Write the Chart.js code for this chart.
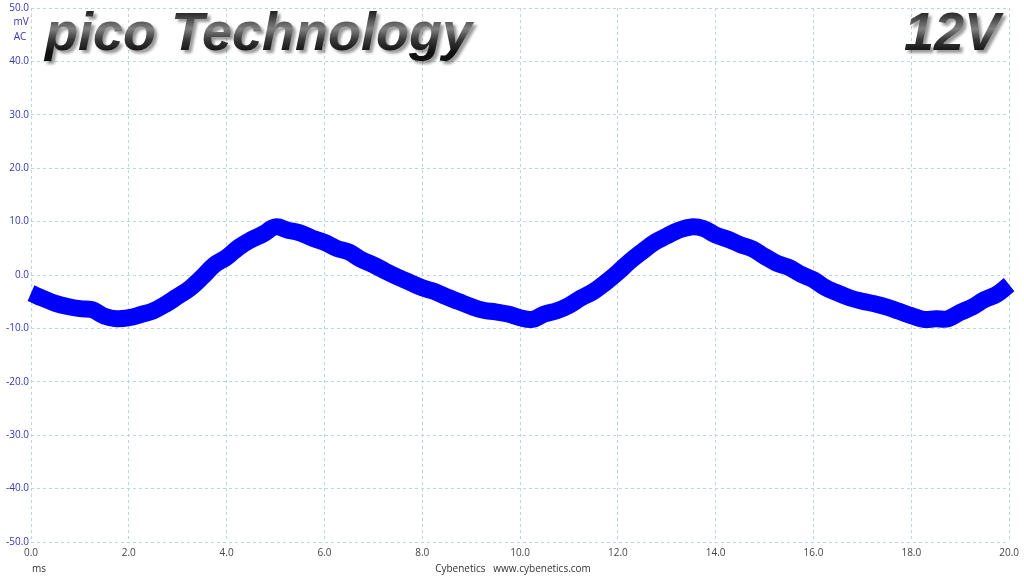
<!DOCTYPE html>
<html>
<head>
<meta charset="utf-8">
<script src="https://cdn.jsdelivr.net/npm/chart.js@4/dist/chart.umd.min.js"></script>
<style>
  html, body { margin: 0; padding: 0; background: #ffffff; }
  #wrap { width: 1024px; height: 576px; position: relative; }
</style>
</head>
<body>
<div id="wrap"><canvas id="myChart" width="1024" height="576"></canvas></div>
<script>
var times = [0, 0.25, 0.5, 0.75, 1, 1.25, 1.5, 1.75, 2, 2.25, 2.5, 2.75, 3, 3.25, 3.5, 3.75,
  4, 4.25, 4.5, 4.75, 5, 5.25, 5.5, 5.75, 6, 6.25, 6.5, 6.75, 7, 7.25, 7.5, 7.75,
  8, 8.25, 8.5, 8.75, 9, 9.25, 9.5, 9.75, 10, 10.25, 10.5, 10.75, 11, 11.25, 11.5, 11.75,
  12, 12.25, 12.5, 12.75, 13, 13.25, 13.5, 13.75, 14, 14.25, 14.5, 14.75, 15, 15.25, 15.5, 15.75,
  16, 16.25, 16.5, 16.75, 17, 17.25, 17.5, 17.75, 18, 18.25, 18.5, 18.75, 19, 19.25, 19.5, 19.75, 20];
var ripple = [-3.4, -4.4, -5.3, -5.9, -6.3, -6.5, -7.7, -8.2, -8.0, -7.4, -6.7, -5.5, -4.0, -2.5, -0.4, 1.9,
  3.3, 5.2, 6.6, 7.7, 9.0, 8.4, 7.9, 6.9, 6.1, 5.0, 4.3, 2.9, 1.9, 0.7, -0.4, -1.4,
  -2.4, -3.1, -4.1, -5.0, -5.9, -6.6, -6.9, -7.3, -8.0, -8.3, -7.3, -6.7, -5.7, -4.3, -3.1, -1.4,
  0.5, 2.6, 4.4, 6.1, 7.3, 8.4, 9.0, 8.7, 7.5, 6.7, 5.7, 4.9, 3.5, 2.2, 1.4, 0.1,
  -0.9, -2.4, -3.4, -4.3, -4.9, -5.4, -6.0, -6.8, -7.6, -8.3, -8.2, -8.2, -7.0, -6.0, -4.6, -3.6, -1.8];
var xTicks = [0, 2, 4, 6, 8, 10, 12, 14, 16, 18, 20];
var yTicks = [50, 40, 30, 20, 10, 0, -10, -20, -30, -40, -50];

var title = "pico Technology";
var rail = "12V";
var yUnit = ["mV", "AC"];
var xUnit = "ms";
var footer = "Cybenetics   www.cybenetics.com";

var points = [];
for (var i = 0; i < times.length; i++) {
  points.push({ x: times[i], y: ripple[i] });
}

// texts that sit on top of the plot
var overlay = {
  id: 'overlay',
  afterDraw: function(chart) {
    var ctx = chart.ctx;
    ctx.save();
    ctx.font = '10px "Open Sans"';
    ctx.fillStyle = '#3434b0';
    ctx.textAlign = 'center';
    ctx.textBaseline = 'middle';
    ctx.fillText(yUnit[0], 21, 22);
    ctx.fillText(yUnit[1], 20, 37);

    ctx.fillStyle = '#333333';
    ctx.textAlign = 'left';
    ctx.fillText(xUnit, 32, 569);
    ctx.textAlign = 'center';
    ctx.fillText(footer, 513, 569);

    // shaded italic headline text
    ctx.font = 'italic bold 54px "Liberation Sans"';
    ctx.textBaseline = 'alphabetic';
    var g = ctx.createLinearGradient(0, 10, 0, 52);
    g.addColorStop(0, '#1a1a1a');
    g.addColorStop(0.45, '#808080');
    g.addColorStop(0.7, '#3a3a3a');
    g.addColorStop(1, '#111111');
    ctx.shadowColor = 'rgba(0,0,0,0.4)';
    ctx.shadowOffsetX = 3;
    ctx.shadowOffsetY = 3;
    ctx.shadowBlur = 3;
    ctx.fillStyle = g;
    ctx.textAlign = 'left';
    ctx.fillText(title, 45, 50);
    ctx.textAlign = 'right';
    ctx.fillText(rail, 1000, 50);
    ctx.restore();
  }
};

const ctx = document.getElementById('myChart');
const myChart = new Chart(ctx, {
  type: 'line',
  data: {
    datasets: [{
      data: points,
      borderColor: '#0000ff',
      borderWidth: 17,
      pointRadius: 0,
      tension: 0.4,
      fill: false,
      borderCapStyle: 'butt',
      borderJoinStyle: 'round'
    }]
  },
  options: {
    responsive: false,
    animation: false,
    clip: false,
    layout: { padding: { top: 7, right: 13, left: 0, bottom: 0 } },
    plugins: {
      legend: { display: false },
      tooltip: { enabled: false }
    },
    scales: {
      x: {
        type: 'linear',
        min: 0,
        max: 20,
        afterBuildTicks: function(scale) {
          scale.ticks = xTicks.map(function(v) { return { value: v }; });
        },
        afterFit: function(scale) { scale.height = 34; },
        grid: { color: '#bcd6dc', drawTicks: false },
        border: { display: false, dash: [3, 3] },
        ticks: {
          autoSkip: false,
          maxRotation: 0,
          padding: 5,
          color: '#444444',
          font: { family: '"Open Sans"', size: 10 },
          callback: function(v) { return v.toFixed(1); }
        }
      },
      y: {
        min: -50,
        max: 50,
        afterBuildTicks: function(scale) {
          scale.ticks = yTicks.map(function(v) { return { value: v }; });
        },
        afterFit: function(scale) { scale.width = 31; },
        grid: { color: '#bcd6dc', drawTicks: false },
        border: { display: false, dash: [3, 3] },
        ticks: {
          autoSkip: false,
          padding: 2,
          color: '#3434b0',
          font: { family: '"Open Sans"', size: 10 },
          callback: function(v) { return v.toFixed(1); }
        }
      }
    }
  },
  plugins: [overlay]
});
</script>
</body>
</html>
